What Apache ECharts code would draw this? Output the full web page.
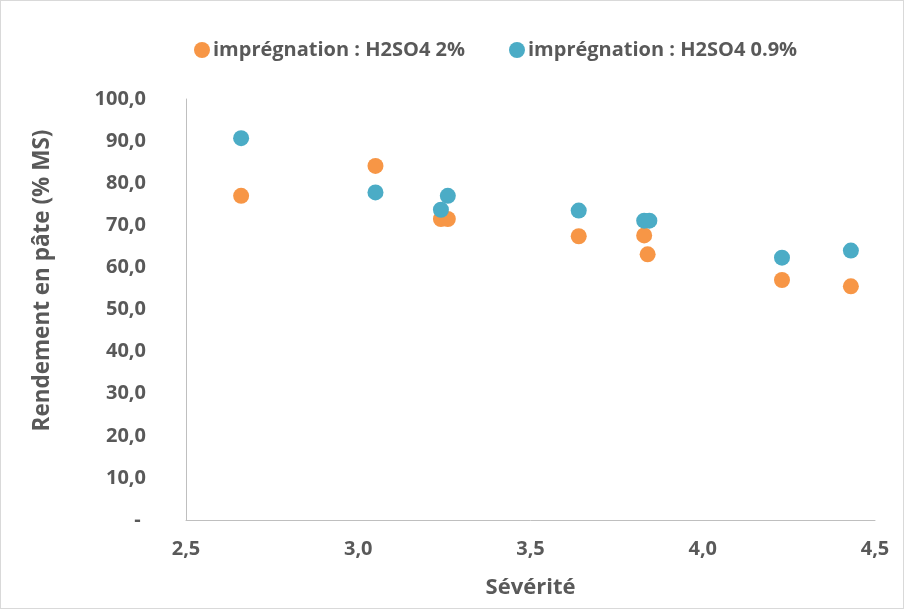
<!DOCTYPE html>
<html><head><meta charset="utf-8">
<script src="https://cdn.jsdelivr.net/npm/echarts@6/dist/echarts.min.js"></script>
<style>html,body{margin:0;padding:0;background:#fff}#c{width:904px;height:609px;box-sizing:border-box;border:1px solid #d9d9d9}</style>
</head><body><div id="c"></div>
<script>
const seriesNames = ['imprégnation : H2SO4 2%', 'imprégnation : H2SO4 0.9%'];
const sev2 = [2.66, 3.05, 3.24, 3.26, 3.64, 3.83, 3.84, 4.23, 4.43];
const yield2 = [77.0, 84.1, 71.5, 71.5, 67.4, 67.6, 63.1, 57.0, 55.5];
const sev09 = [2.66, 3.05, 3.24, 3.26, 3.64, 3.83, 3.845, 4.23, 4.43];
const yield09 = [90.7, 77.8, 73.7, 77.0, 73.5, 71.1, 71.1, 62.3, 64.0];
const colors = ['#F79646', '#4BACC6'];
const font = '"Open Sans", sans-serif';
const txt = '#595959';
const chart = echarts.init(document.getElementById('c'));
chart.setOption({
  animation: false,
  color: colors,
  legend: {
    top: 34, left: 188, itemGap: 44, icon: 'circle', itemWidth: 16, itemHeight: 16,
    textStyle: {color: txt, fontFamily: font, fontWeight: 'bold', fontSize: 20, padding: [0, 0, 0, -2]}
  },
  grid: {left: 185, right: 28, top: 98, bottom: 88},
  xAxis: {
    type: 'value', min: 2.5, max: 4.5, interval: 0.5,
    name: 'Sévérité', nameLocation: 'middle', nameGap: 57,
    nameTextStyle: {color: txt, fontFamily: font, fontWeight: 'bold', fontSize: 22},
    axisLine: {lineStyle: {color: '#bfbfbf', width: 1}},
    axisTick: {show: false}, splitLine: {show: false},
    axisLabel: {color: txt, fontFamily: font, fontWeight: 'bold', fontSize: 20, margin: 19,
      formatter: v => v.toFixed(1).replace('.', ',')}
  },
  yAxis: {
    type: 'value', min: 0, max: 100, interval: 10,
    name: 'Rendement en pâte (% MS)', nameLocation: 'middle', nameGap: 132,
    nameTextStyle: {color: txt, fontFamily: font, fontWeight: 'bold', fontSize: 22.5, padding: [0, 0, 0, 58]},
    axisLine: {show: true, lineStyle: {color: '#bfbfbf', width: 1}},
    axisTick: {show: false}, splitLine: {show: false},
    axisLabel: {color: txt, fontFamily: font, fontWeight: 'bold', fontSize: 20, margin: 40,
      formatter: v => v === 0 ? '- ' : v.toFixed(1).replace('.', ',')}
  },
  series: [
    {name: seriesNames[0], type: 'scatter', symbolSize: 16, itemStyle: {opacity: 1}, data: sev2.map((x, i) => [x, yield2[i]])},
    {name: seriesNames[1], type: 'scatter', symbolSize: 16, itemStyle: {opacity: 1}, data: sev09.map((x, i) => [x, yield09[i]])}
  ]
});
</script></body></html>
